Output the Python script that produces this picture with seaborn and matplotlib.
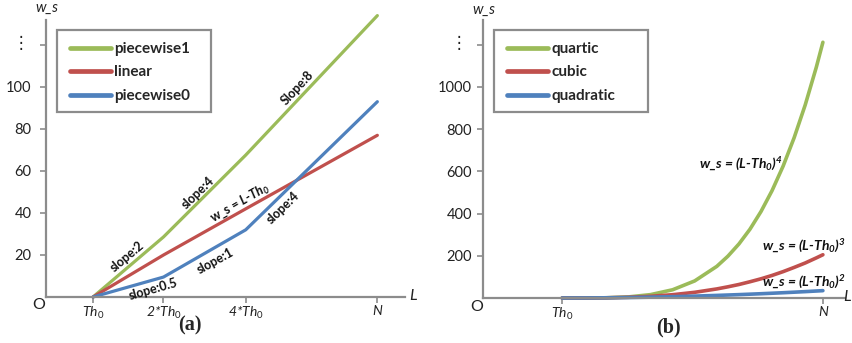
import numpy as np
import pandas as pd
import matplotlib
matplotlib.use("Agg")
import matplotlib.pyplot as plt
from matplotlib.patches import Rectangle
import seaborn as sns

# ---------------- data ----------------
# panel (a)
left_x = [1.0, 2.5, 4.25, 7.05]
left_xlabels = [r"Th$_\mathit{0}$", r"2*Th$_\mathit{0}$", r"4*Th$_\mathit{0}$", "N"]
piecewise1 = [0, 28.6, 67.6, 134]
linear = [0, 20, 42, 77]
piecewise0 = [0, 9.5, 32, 93]
left_yticks = [20, 40, 60, 80, 100, 120]
left_yticklabels = ["20", "40", "60", "80", "100", ""]

# panel (b)
right_x = [1.79, 2.29, 2.79, 3.29, 3.79, 4.29, 4.79, 5.29, 5.54, 5.79, 6.04,
           6.29, 6.54, 6.79, 7.04, 7.29, 7.54, 7.69]
quartic = [0, 0.06, 1, 5.1, 16, 39, 81, 150, 198, 256, 326, 410, 509, 625,
           760, 915, 1093, 1212]
cubic = [0, 0.13, 1, 3.4, 8, 15.6, 27, 43, 53, 64, 77, 91, 107, 125, 145,
         166, 190, 205]
quadratic = [0, 0.25, 1, 2.25, 4, 6.25, 9, 12.25, 14.1, 16, 18.1, 20.25, 22.6,
             25, 27.6, 30.25, 33.1, 34.8]
right_xticks = [1.79, 7.69]
right_xlabels = [r"Th$_\mathit{0}$", "N"]
right_yticks = [200, 400, 600, 800, 1000, 1200]
right_yticklabels = ["200", "400", "600", "800", "1000", ""]

GREEN, RED, BLUE = "#9BBB59", "#C0504D", "#4F81BD"
GRAY = "#8c8c8c"

sns.set_style("white")
FAM = ["Lato", "DejaVu Sans"]
plt.rcParams["font.family"] = FAM
plt.rcParams["mathtext.fontset"] = "custom"
plt.rcParams["mathtext.rm"] = "Lato"
plt.rcParams["mathtext.it"] = "Lato:italic"
plt.rcParams["mathtext.bf"] = "Lato:bold"
plt.rcParams["mathtext.bfit"] = "Lato:bold:italic"

W, H = 853, 343
fig = plt.figure(figsize=(W / 100, H / 100), dpi=100)


def px(x, y):
    return x / W, 1 - y / H


def axes_px(x0, x1, y_top, y_bot):
    return fig.add_axes([x0 / W, 1 - y_bot / H, (x1 - x0) / W, (y_bot - y_top) / H])


def style_axes(ax, ypad):
    for s in ["top", "right"]:
        ax.spines[s].set_visible(False)
    for s in ["left", "bottom"]:
        ax.spines[s].set_color(GRAY)
        ax.spines[s].set_linewidth(1.6)
    ax.tick_params(axis="y", direction="out", length=4, width=1.2, color=GRAY,
                   labelsize=10.5, labelcolor="#222222", pad=ypad, left=True)
    ax.tick_params(axis="x", direction="out", length=4, width=1.2, color=GRAY,
                   labelsize=10, labelcolor="#222222", pad=2, bottom=True)
    ax.set_xlabel("")
    ax.set_ylabel("")
    ax.grid(False)


def make_legend(ax, handle_x, top_y, box):
    old = ax.get_legend()
    handles = old.legend_handles
    labels = [t.get_text() for t in old.get_texts()]
    for h in handles:
        h.set_linewidth(3.4)
    leg = ax.legend(handles, labels, loc="upper left",
                    bbox_to_anchor=px(handle_x, top_y),
                    bbox_transform=fig.transFigure,
                    borderaxespad=0, borderpad=0, frameon=False,
                    handlelength=2.7, handletextpad=0.2, labelspacing=0.62,
                    prop={"family": FAM, "weight": "bold", "size": 11})
    x0, y0, x1, y1 = box
    fig.add_artist(Rectangle(px(x0, y1), (x1 - x0) / W, (y1 - y0) / H,
                             transform=fig.transFigure, fill=False,
                             edgecolor=GRAY, linewidth=1.6))
    return leg


# ---------------- panel (a) ----------------
axL = axes_px(46, 405, 20, 297)
dfL = pd.DataFrame({
    "L": left_x * 3,
    "w_s": piecewise1 + linear + piecewise0,
    "series": ["piecewise1"] * 4 + ["linear"] * 4 + ["piecewise0"] * 4,
})
sns.lineplot(data=dfL, x="L", y="w_s", hue="series",
             hue_order=["piecewise1", "linear", "piecewise0"],
             palette=[GREEN, RED, BLUE], sort=False, estimator=None,
             linewidth=2.3, ax=axL, clip_on=False)
axL.set_xlim(0, 359 / 47)
axL.set_ylim(0, 277 / 2.1)
axL.set_xticks(left_x)
axL.set_xticklabels(left_xlabels, fontstyle="italic")
axL.set_yticks(left_yticks)
axL.set_yticklabels(left_yticklabels)
style_axes(axL, 6.5)
make_legend(axL, 70, 42, (57, 30, 211, 112))

ann_kw = dict(fontsize=9, fontweight="bold", ha="center", va="center",
              rotation_mode="anchor", color="#111111")
left_notes = [
    ("slope:2", 127, 257, 40),
    ("slope:4", 198, 193, 44),
    ("Slope:8", 297, 88, 47),
    (r"w_s = $\mathbfit{L}$-$\mathbfit{Th}_\mathbfit{0}$", 240, 203, 30),
    ("slope:4", 283, 208, 44),
    ("slope:1", 215, 261, 29),
    ("slope:0.5", 153, 289, 16),
]
for txt, x, y, r in left_notes:
    fig.text(*px(x, y), txt, rotation=r, **ann_kw)

# ---------------- panel (b) ----------------
axR = axes_px(483, 845, 20, 298)
n = len(right_x)
dfR = pd.DataFrame({
    "L": right_x * 3,
    "w_s": quartic + cubic + quadratic,
    "series": ["quartic"] * n + ["cubic"] * n + ["quadratic"] * n,
})
sns.lineplot(data=dfR, x="L", y="w_s", hue="series",
             hue_order=["quartic", "cubic", "quadratic"],
             palette=[GREEN, RED, BLUE], sort=False, estimator=None,
             linewidth=2.6, ax=axR, clip_on=False)
axR.set_xlim(0, 362 / 44.2)
axR.set_ylim(0, 278 / 0.211)
axR.set_xticks(right_xticks)
axR.set_xticklabels(right_xlabels, fontstyle="italic")
axR.set_yticks(right_yticks)
axR.set_yticklabels(right_yticklabels)
style_axes(axR, 4)
make_legend(axR, 507, 42, (494, 30, 648, 112))

rn_kw = dict(fontsize=10, fontweight="bold", fontstyle="italic",
             ha="center", va="center", color="#111111")
fig.text(*px(741, 164), r"w_s = (L-Th$_\mathbfit{0}$)$^\mathbfit{4}$", **rn_kw)
fig.text(*px(804, 246), r"w_s = (L-Th$_\mathbfit{0}$)$^\mathbfit{3}$", **rn_kw)
fig.text(*px(804, 282), r"w_s = (L-Th$_\mathbfit{0}$)$^\mathbfit{2}$", **rn_kw)

# ---------------- shared decorations ----------------
for (ox, oy), (lx, ly), (wx, wy), (dx, dy), (tx, ty, t) in [
    ((39, 305), (413, 296), (47, 8), (21, 43), (190, 325, "(a)")),
    ((477, 307), (847, 297), (484, 10), (459, 43), (668, 327, "(b)")),
]:
    fig.text(*px(ox, oy), "O", fontsize=11.5, ha="center", va="center", color="#222222")
    fig.text(*px(lx, ly), "L", fontsize=11.5, fontstyle="italic", ha="center",
             va="center", color="#222222")
    fig.text(*px(wx, wy), "w_s", fontsize=10.5, fontstyle="italic", ha="center",
             va="center", color="#222222")
    fig.text(*px(dx, dy), "⋮", fontsize=12, ha="center", va="center",
             color="#222222", family=["DejaVu Sans"])
    fig.text(*px(tx, ty), t, fontsize=14.5, fontweight="bold", ha="center",
             va="center", family=["Liberation Serif"])

fig.savefig("out.png", dpi=100)
